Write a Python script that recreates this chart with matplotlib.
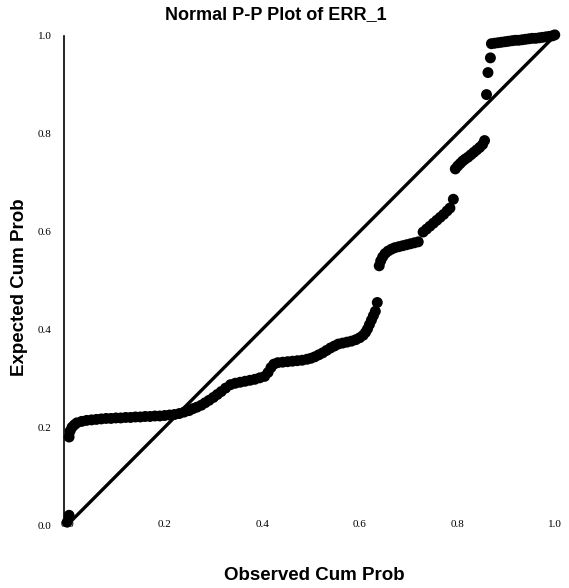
import matplotlib
matplotlib.use("Agg")
import matplotlib.pyplot as plt

# observed / expected cumulative probabilities
obs = [0.000, 0.004,
       0.004, 0.006, 0.010, 0.015, 0.020, 0.030, 0.040, 0.050, 0.060, 0.070, 0.080,
       0.090, 0.100, 0.110, 0.120, 0.130, 0.140, 0.150, 0.160, 0.170, 0.180, 0.190,
       0.200, 0.210, 0.220, 0.230, 0.240, 0.250, 0.258, 0.266, 0.275, 0.283, 0.291,
       0.300, 0.308, 0.316, 0.325, 0.335, 0.345, 0.355, 0.365, 0.375, 0.385, 0.395,
       0.405, 0.412, 0.418, 0.424, 0.432, 0.442, 0.452, 0.462, 0.472, 0.482, 0.492,
       0.500, 0.508, 0.516, 0.524, 0.532, 0.540, 0.548, 0.556, 0.565, 0.574, 0.583,
       0.592, 0.600, 0.607, 0.612, 0.616, 0.620, 0.624, 0.628, 0.632, 0.636,
       0.640, 0.643, 0.647, 0.652, 0.658, 0.665, 0.672, 0.680, 0.688, 0.696, 0.704,
       0.712, 0.720,
       0.730, 0.737, 0.744, 0.751, 0.758, 0.765, 0.772, 0.779, 0.785,
       0.792,
       0.796, 0.801, 0.806, 0.811, 0.816, 0.822, 0.828, 0.834, 0.840, 0.846, 0.852,
       0.856,
       0.860, 0.863, 0.868,
       0.870, 0.877, 0.884, 0.891, 0.898, 0.905, 0.912, 0.919, 0.926, 0.933, 0.940,
       0.947, 0.954, 0.961, 0.968, 0.975, 0.982, 0.989, 0.995, 1.000]
exp = [0.006, 0.020,
       0.180, 0.192, 0.200, 0.205, 0.209, 0.212, 0.214, 0.215, 0.216, 0.217, 0.218,
       0.218, 0.219, 0.219, 0.220, 0.220, 0.221, 0.221, 0.222, 0.222, 0.223, 0.223,
       0.224, 0.225, 0.226, 0.228, 0.231, 0.234, 0.238, 0.241, 0.245, 0.250, 0.255,
       0.261, 0.267, 0.273, 0.280, 0.287, 0.290, 0.292, 0.294, 0.296, 0.298, 0.301,
       0.304, 0.312, 0.322, 0.329, 0.332, 0.333, 0.334, 0.335, 0.336, 0.337, 0.339,
       0.341, 0.344, 0.348, 0.352, 0.357, 0.362, 0.366, 0.370, 0.372, 0.374, 0.376,
       0.379, 0.383, 0.388, 0.394, 0.401, 0.410, 0.419, 0.428, 0.437, 0.455,
       0.530, 0.540, 0.548, 0.555, 0.560, 0.564, 0.567, 0.569, 0.571, 0.573, 0.575,
       0.577, 0.579,
       0.599, 0.605, 0.611, 0.617, 0.623, 0.629, 0.635, 0.642, 0.648,
       0.666,
       0.728, 0.734, 0.739, 0.744, 0.748, 0.752, 0.757, 0.762, 0.767, 0.772, 0.778,
       0.786,
       0.880, 0.925, 0.955,
       0.984, 0.985, 0.986, 0.987, 0.988, 0.989, 0.990, 0.991, 0.991, 0.992, 0.993,
       0.994, 0.995, 0.995, 0.996, 0.997, 0.998, 0.999, 1.000, 1.002]

xticks = [0.0, 0.2, 0.4, 0.6, 0.8, 1.0]
yticks = [0.0, 0.2, 0.4, 0.6, 0.8, 1.0]

fig = plt.figure(figsize=(5.69, 5.88), dpi=100)
ax = fig.add_axes([0.118, 0.107, 0.857, 0.832])

ax.plot([0, 1], [0, 1], color="black", lw=2.4, clip_on=False, zorder=2)
ax.scatter(obs, exp, s=62, color="black", edgecolors="none", clip_on=False, zorder=3)

ax.set_xlim(0, 1)
ax.set_ylim(0, 1)
for side in ["top", "right", "bottom"]:
    ax.spines[side].set_visible(False)
ax.spines["left"].set_position(("data", -0.006))
ax.spines["left"].set_linewidth(1.2)

ax.set_xticks(xticks)
ax.set_yticks(yticks)
ax.set_xticklabels([f"{t:.1f}" for t in xticks], family="Liberation Serif", fontsize=8)
ax.set_yticklabels([f"{t:.1f}" for t in yticks], family="Liberation Serif", fontsize=8)
ax.tick_params(axis="x", length=0, pad=-4)
ax.tick_params(axis="y", length=0, pad=9)

fig.text(0.485, 0.975, "Normal P-P Plot of ERR_1", ha="center", va="center",
         family="Liberation Sans", fontweight="bold", fontsize=13)
fig.text(0.553, 0.022, "Observed Cum Prob", ha="center", va="center",
         family="Liberation Sans", fontweight="bold", fontsize=13.5)
fig.text(0.035, 0.512, "Expected Cum Prob", ha="center", va="center", rotation=90,
         family="Liberation Sans", fontweight="bold", fontsize=13.5)

fig.savefig("out.png", dpi=100)
